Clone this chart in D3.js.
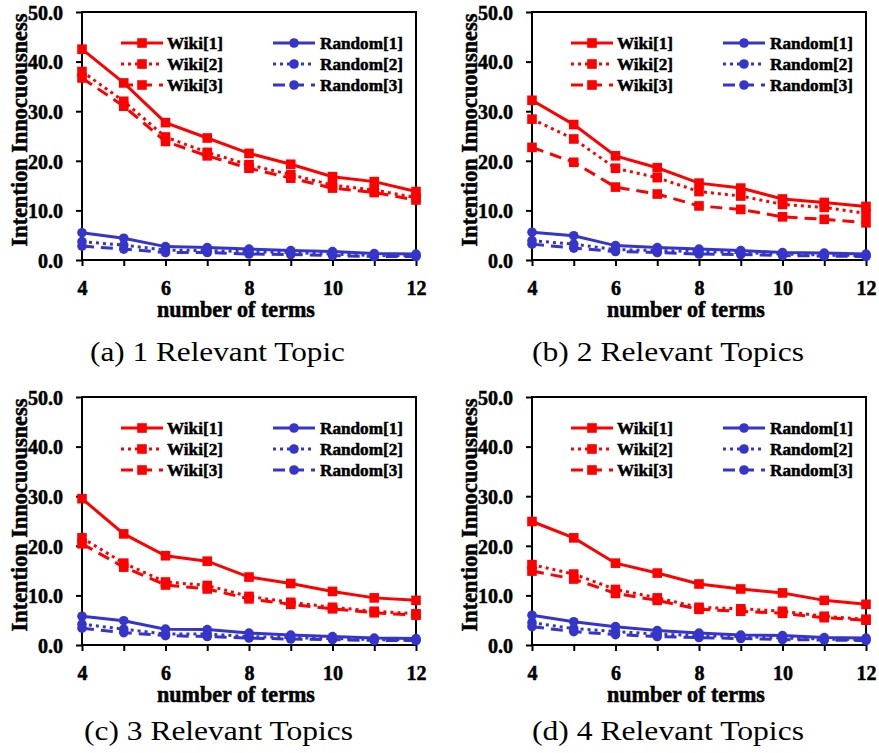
<!DOCTYPE html>
<html>
<head>
<meta charset="utf-8">
<script src="https://cdn.jsdelivr.net/npm/d3@7/dist/d3.min.js"></script>
<style>
  body { margin: 0; background: #fff; }
  svg text { font-family: "Liberation Serif", "Times New Roman", serif; }
  svg text.heavy { stroke: #000; stroke-width: 0.5px; }
</style>
</head>
<body>
<div id="chart"></div>
<script>
// ---- Data -------------------------------------------------------------
const terms = [4, 5, 6, 7, 8, 9, 10, 11, 12];
const yTicks = [0, 10, 20, 30, 40, 50];
const wikiNames = ['Wiki[1]', 'Wiki[2]', 'Wiki[3]'];
const randomNames = ['Random[1]', 'Random[2]', 'Random[3]'];
const captions = ['(a) 1 Relevant Topic', '(b) 2 Relevant Topics', '(c) 3 Relevant Topics', '(d) 4 Relevant Topics'];

// (a) 1 relevant topic
const wikiA = [
  [42.5, 35.7, 27.7, 24.6, 21.5, 19.3, 16.8, 15.8, 13.8],
  [38.0, 32.0, 24.8, 21.7, 19.2, 17.2, 15.1, 14.1, 12.6],
  [36.7, 31.0, 23.9, 21.0, 18.5, 16.5, 14.5, 13.6, 12.1]
];
const randomA = [
  [5.5, 4.4, 2.7, 2.5, 2.2, 1.9, 1.7, 1.3, 1.2],
  [3.7, 3.0, 2.0, 1.9, 1.7, 1.5, 1.2, 0.9, 0.9],
  [2.8, 2.2, 1.5, 1.5, 1.2, 1.1, 0.9, 0.7, 0.7]
];
// (b) 2 relevant topics
const wikiB = [
  [32.2, 27.3, 21.0, 18.6, 15.5, 14.5, 12.3, 11.6, 10.8],
  [28.4, 24.4, 18.5, 16.6, 13.8, 12.9, 11.2, 10.6, 9.4],
  [22.7, 19.7, 14.7, 13.3, 10.9, 10.2, 8.7, 8.2, 7.5]
];
const randomB = [
  [5.6, 4.9, 2.9, 2.5, 2.2, 1.9, 1.5, 1.4, 1.2],
  [3.9, 3.2, 2.1, 1.9, 1.7, 1.5, 1.2, 1.0, 0.9],
  [3.2, 2.4, 1.7, 1.5, 1.2, 1.1, 0.9, 0.8, 0.7]
];
// (c) 3 relevant topics
const wikiC = [
  [29.5, 22.4, 18.0, 16.9, 13.7, 12.4, 10.8, 9.5, 9.0],
  [21.6, 16.5, 12.7, 12.0, 9.8, 8.6, 7.6, 6.8, 6.3],
  [20.4, 15.7, 12.1, 11.3, 9.3, 8.2, 7.3, 6.5, 6.0]
];
const randomC = [
  [5.8, 4.9, 3.2, 3.1, 2.4, 2.0, 1.7, 1.4, 1.3],
  [4.2, 3.2, 2.2, 2.2, 1.7, 1.5, 1.3, 1.1, 1.0],
  [3.4, 2.5, 1.9, 1.7, 1.4, 1.2, 1.1, 0.9, 0.9]
];
// (d) 4 relevant topics
const wikiD = [
  [24.9, 21.6, 16.5, 14.5, 12.3, 11.3, 10.5, 9.0, 8.2],
  [16.2, 14.3, 11.2, 9.5, 7.6, 7.3, 6.8, 5.8, 5.2],
  [14.9, 13.3, 10.4, 9.0, 7.2, 6.8, 6.4, 5.5, 5.0]
];
const randomD = [
  [6.0, 4.7, 3.7, 2.9, 2.4, 2.0, 1.9, 1.5, 1.4],
  [4.5, 3.3, 2.7, 2.2, 1.9, 1.7, 1.4, 1.2, 1.1],
  [3.7, 2.7, 2.1, 1.7, 1.5, 1.3, 1.1, 1.0, 0.9]
];

// ---- Layout -----------------------------------------------------------
const width = 879, height = 753;
const RED = '#ff0000', BLUE = '#3535cc';
const dashes = [null, '3,4', '12,7'];
const panels = [
  { left: 82,  top: 12,  wiki: wikiA, random: randomA, cap: { x: 90,  y: 361, w: 255 } },
  { left: 532, top: 12,  wiki: wikiB, random: randomB, cap: { x: 532, y: 361, w: 272 } },
  { left: 82,  top: 397, wiki: wikiC, random: randomC, cap: { x: 84,  y: 740, w: 269 } },
  { left: 532, top: 397, wiki: wikiD, random: randomD, cap: { x: 532, y: 740, w: 272 } }
];
const pw = 334, ph = 248;

const svg = d3.select('#chart').append('svg')
  .attr('width', width)
  .attr('height', height);

// size a bold font so a sample string gets the width seen in the picture
function fitFont(sample, target) {
  const t = svg.append('text')
    .style('font-size', '20px')
    .style('font-weight', 'bold')
    .text(sample);
  const w = t.node().getComputedTextLength();
  t.remove();
  return 20 * target / w;
}
const tickFont = fitFont('50.0', 35);
const xTitleFont = fitFont('number of terms', 158);
const yTitleFont = fitFont('Intention Innocuousness', 233);
const legendFont = fitFont('Random[1]', 83);

const x = d3.scaleLinear().domain([4, 12]).range([0, pw]);
const y = d3.scaleLinear().domain([0, 50]).range([ph, 0]);

const line = d3.line()
  .x((d, i) => x(terms[i]))
  .y(d => y(d));

function drawMarker(g, kind, cx, cy, color) {
  if (kind === 'square') {
    g.append('rect')
      .attr('x', cx - 4.8).attr('y', cy - 4.8)
      .attr('width', 9.6).attr('height', 9.6)
      .attr('fill', color);
  } else {
    g.append('circle')
      .attr('cx', cx).attr('cy', cy).attr('r', 4.8)
      .attr('fill', color);
  }
}

panels.forEach((p, pi) => {
  const g = svg.append('g').attr('transform', `translate(${p.left},${p.top})`);

  // ---- Axes ------------------------------------------------------------
  const yAxis = d3.axisLeft(y)
    .tickValues(yTicks)
    .tickFormat(d3.format('.1f'))
    .tickSize(6)
    .tickSizeOuter(0);
  const yg = g.append('g').call(yAxis);
  yg.select('.domain').remove();
  yg.selectAll('line').attr('stroke', '#000').attr('stroke-width', 2);
  yg.selectAll('text')
    .classed('heavy', true)
    .attr('x', -19)
    .attr('dy', '0.36em')
    .attr('fill', '#000')
    .style('font-size', tickFont + 'px')
    .style('font-weight', 'bold');

  const xAxis = d3.axisBottom(x)
    .tickValues(terms)
    .tickFormat(d => d % 2 === 0 ? d : '')
    .tickSize(6)
    .tickSizeOuter(0);
  const xg = g.append('g').attr('transform', `translate(0,${ph})`).call(xAxis);
  xg.select('.domain').remove();
  xg.selectAll('line').attr('stroke', '#000').attr('stroke-width', 2);
  xg.selectAll('text')
    .classed('heavy', true)
    .attr('y', 35)
    .attr('dy', 0)
    .attr('fill', '#000')
    .style('font-size', tickFont + 'px')
    .style('font-weight', 'bold');

  // frame
  g.append('rect')
    .attr('width', pw).attr('height', ph)
    .attr('fill', 'none')
    .attr('stroke', '#000')
    .attr('stroke-width', 2);

  // axis titles
  g.append('text')
    .classed('heavy', true)
    .attr('x', pw / 2 - 13)
    .attr('y', ph + 57)
    .attr('text-anchor', 'middle')
    .style('font-size', xTitleFont + 'px')
    .style('font-weight', 'bold')
    .text('number of terms');

  g.append('text')
    .classed('heavy', true)
    .attr('transform', 'rotate(-90)')
    .attr('x', -(ph / 2 - 6))
    .attr('y', -55)
    .attr('text-anchor', 'middle')
    .style('font-size', yTitleFont + 'px')
    .style('font-weight', 'bold')
    .text('Intention Innocuousness');

  // ---- Series ----------------------------------------------------------
  const groups = [
    { data: p.random, color: BLUE, kind: 'circle' },
    { data: p.wiki, color: RED, kind: 'square' }
  ];
  groups.forEach(grp => {
    [2, 1, 0].forEach(si => {
      const vals = grp.data[si];
      g.append('path')
        .attr('d', line(vals))
        .attr('fill', 'none')
        .attr('stroke', grp.color)
        .attr('stroke-width', 3)
        .attr('stroke-dasharray', dashes[si]);
      vals.forEach((v, i) => drawMarker(g, grp.kind, x(terms[i]), y(v), grp.color));
    });
  });

  // ---- Legend ----------------------------------------------------------
  const rows = [31, 52, 73];
  const cols = [
    { names: wikiNames, x0: 39, x1: 81, tx: 85, color: RED, kind: 'square' },
    { names: randomNames, x0: 191, x1: 233, tx: 238, color: BLUE, kind: 'circle' }
  ];
  cols.forEach(c => {
    c.names.forEach((name, si) => {
      const ry = rows[si];
      g.append('line')
        .attr('x1', c.x0).attr('x2', c.x1)
        .attr('y1', ry).attr('y2', ry)
        .attr('stroke', c.color)
        .attr('stroke-width', 3)
        .attr('stroke-dasharray', dashes[si]);
      drawMarker(g, c.kind, (c.x0 + c.x1) / 2, ry, c.color);
      g.append('text')
        .classed('heavy', true)
        .attr('x', c.tx)
        .attr('y', ry)
        .attr('dy', '0.35em')
        .style('font-size', legendFont + 'px')
        .style('font-weight', 'bold')
        .text(name);
    });
  });

  // ---- Caption ---------------------------------------------------------
  svg.append('text')
    .attr('x', p.cap.x)
    .attr('y', p.cap.y)
    .attr('textLength', p.cap.w)
    .attr('lengthAdjust', 'spacingAndGlyphs')
    .style('font-size', '28px')
    .text(captions[pi]);
});
</script>
</body>
</html>
